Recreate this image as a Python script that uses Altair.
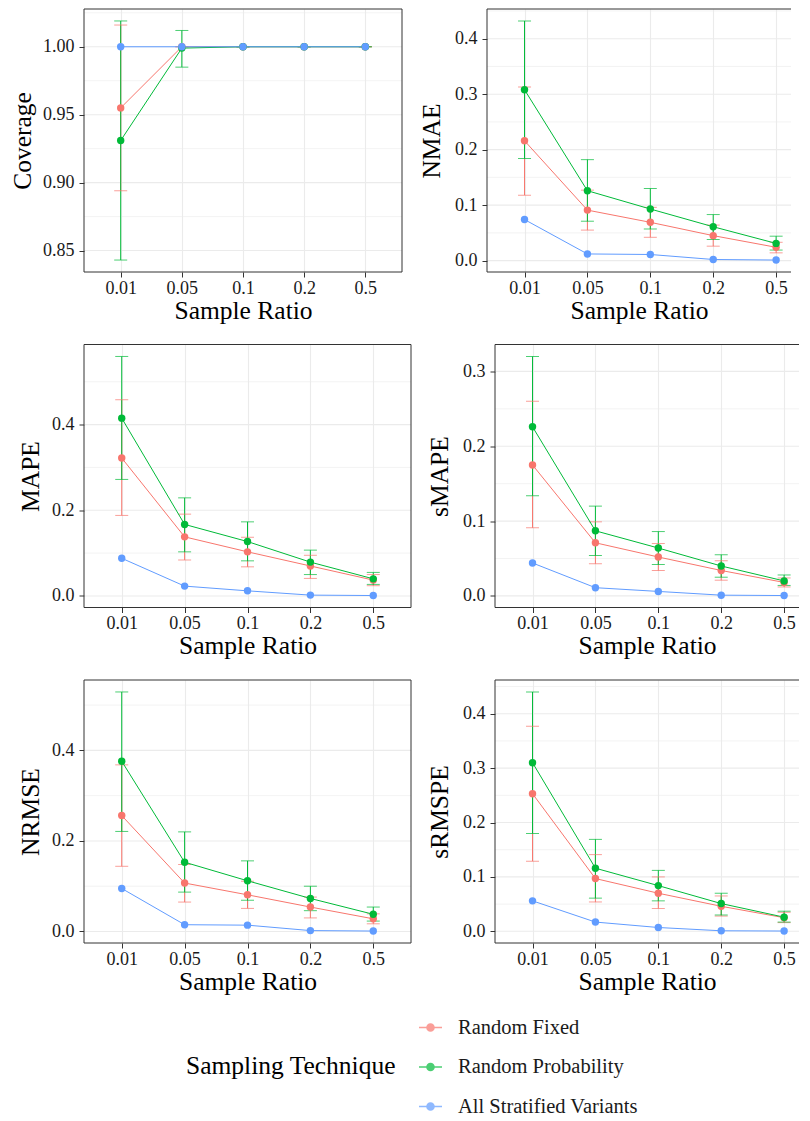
import altair as alt
import pandas as pd

# ---------------- data ----------------
ratios = ["0.01", "0.05", "0.1", "0.2", "0.5"]
techniques = ["Random Fixed", "Random Probability", "All Stratified Variants"]
colors = ["#F8766D", "#00BA38", "#619CFF"]

coverage_fixed = [0.955, 1.000, 1.000, 1.000, 1.000]
coverage_fixed_lo = [0.894, 1.000, 1.000, 1.000, 1.000]
coverage_fixed_hi = [1.016, 1.000, 1.000, 1.000, 1.000]
coverage_prob = [0.931, 0.999, 1.000, 1.000, 1.000]
coverage_prob_lo = [0.843, 0.985, 1.000, 1.000, 1.000]
coverage_prob_hi = [1.019, 1.012, 1.000, 1.000, 1.000]
coverage_strat = [1.000, 1.000, 1.000, 1.000, 1.000]

nmae_fixed = [0.216, 0.091, 0.069, 0.045, 0.024]
nmae_fixed_lo = [0.118, 0.055, 0.042, 0.026, 0.014]
nmae_fixed_hi = [0.313, 0.127, 0.096, 0.064, 0.033]
nmae_prob = [0.308, 0.126, 0.093, 0.061, 0.031]
nmae_prob_lo = [0.184, 0.071, 0.057, 0.038, 0.019]
nmae_prob_hi = [0.432, 0.182, 0.130, 0.083, 0.044]
nmae_strat = [0.074, 0.012, 0.011, 0.002, 0.001]

mape_fixed = [0.322, 0.138, 0.103, 0.070, 0.037]
mape_fixed_lo = [0.188, 0.084, 0.068, 0.041, 0.024]
mape_fixed_hi = [0.458, 0.191, 0.137, 0.095, 0.050]
mape_prob = [0.415, 0.167, 0.127, 0.079, 0.040]
mape_prob_lo = [0.272, 0.103, 0.082, 0.050, 0.027]
mape_prob_hi = [0.559, 0.229, 0.173, 0.107, 0.055]
mape_strat = [0.088, 0.023, 0.012, 0.002, 0.001]

smape_fixed = [0.175, 0.071, 0.052, 0.034, 0.018]
smape_fixed_lo = [0.091, 0.043, 0.034, 0.021, 0.012]
smape_fixed_hi = [0.260, 0.099, 0.070, 0.047, 0.024]
smape_prob = [0.226, 0.087, 0.064, 0.040, 0.020]
smape_prob_lo = [0.134, 0.054, 0.042, 0.025, 0.014]
smape_prob_hi = [0.320, 0.120, 0.086, 0.055, 0.028]
smape_strat = [0.044, 0.011, 0.006, 0.001, 0.0005]

nrmse_fixed = [0.256, 0.107, 0.081, 0.054, 0.028]
nrmse_fixed_lo = [0.144, 0.065, 0.051, 0.030, 0.017]
nrmse_fixed_hi = [0.368, 0.148, 0.111, 0.076, 0.039]
nrmse_prob = [0.376, 0.153, 0.112, 0.073, 0.038]
nrmse_prob_lo = [0.221, 0.087, 0.069, 0.046, 0.023]
nrmse_prob_hi = [0.529, 0.220, 0.156, 0.100, 0.054]
nrmse_strat = [0.095, 0.015, 0.014, 0.002, 0.001]

srmspe_fixed = [0.253, 0.097, 0.070, 0.046, 0.025]
srmspe_fixed_lo = [0.129, 0.054, 0.042, 0.028, 0.016]
srmspe_fixed_hi = [0.377, 0.141, 0.100, 0.065, 0.035]
srmspe_prob = [0.310, 0.116, 0.084, 0.051, 0.026]
srmspe_prob_lo = [0.180, 0.061, 0.056, 0.030, 0.017]
srmspe_prob_hi = [0.440, 0.169, 0.112, 0.070, 0.037]
srmspe_strat = [0.056, 0.017, 0.007, 0.001, 0.0005]

coverage_ticks = [0.85, 0.90, 0.95, 1.00]
coverage_minor = [0.875, 0.925, 0.975, 1.025]
nmae_ticks = [0.0, 0.1, 0.2, 0.3, 0.4]
nmae_minor = [0.05, 0.15, 0.25, 0.35, 0.45]
mape_ticks = [0.0, 0.2, 0.4]
mape_minor = [0.1, 0.3, 0.5]
smape_ticks = [0.0, 0.1, 0.2, 0.3]
smape_minor = [0.05, 0.15, 0.25]
nrmse_ticks = [0.0, 0.2, 0.4]
nrmse_minor = [0.1, 0.3, 0.5]
srmspe_ticks = [0.0, 0.1, 0.2, 0.3, 0.4]
srmspe_minor = [0.05, 0.15, 0.25, 0.35, 0.45]

# ---------------- style ----------------
FONT = "Liberation Serif"
GRID = "#EBEBEB"
BORDER = "#333333"
TEXT = "#1a1a1a"
H = 263

legend_path = "M-1,0L1,0"
for r in [0.31, 0.235, 0.157, 0.08, 0.02]:
    legend_path += f"M{r},0A{r},{r},0,1,1,{-r},0A{r},{r},0,1,1,{r},0"

LEGEND = alt.Legend(
    title="Sampling Technique", orient="none", legendX=102, legendY=1006,
    titleOrient="left", titleAnchor="middle", titleBaseline="middle",
    titleFontSize=25.5, titleFont=FONT, titleFontWeight="normal", titleColor="black",
    titlePadding=22, titleLimit=500, labelLimit=500,
    labelFontSize=20.5, labelFont=FONT, labelColor=TEXT, labelOffset=15,
    symbolType=legend_path, symbolSize=529, symbolStrokeWidth=1.5, rowPadding=16.5,
)


def build_df(fixed, fixed_lo, fixed_hi, prob, prob_lo, prob_hi, strat):
    rows = []
    series = [
        (techniques[0], fixed, fixed_lo, fixed_hi),
        (techniques[1], prob, prob_lo, prob_hi),
        (techniques[2], strat, strat, strat),
    ]
    for tech, m, lo, hi in series:
        for i, r in enumerate(ratios):
            rows.append({"ratio": r, "technique": tech, "mean": m[i], "lo": lo[i], "hi": hi[i]})
    return pd.DataFrame(rows)


def panel(title, df, fmt, majors, minors, width, extent, right_border, xpad=0.6, xalign=0.5):
    lo_all = min(df["lo"].min(), df["mean"].min())
    hi_all = max(df["hi"].max(), df["mean"].max())
    span = hi_all - lo_all
    ydom = [lo_all - 0.05 * span, hi_all + 0.05 * span]

    yscale = alt.Scale(domain=ydom, nice=False, zero=False)
    xscale = alt.Scale(type="point", domain=ratios, padding=xpad, align=xalign)
    cscale = alt.Scale(domain=techniques, range=colors)

    x_axis = alt.Axis(title="Sample Ratio", labelAngle=0, grid=True, gridColor=GRID, gridWidth=1.1,
                      domain=False, ticks=True, tickSize=5, tickColor=BORDER, tickWidth=1,
                      labelPadding=2, labelFontSize=18, titleFontSize=25.5, titlePadding=1)
    y_axis = alt.Axis(title=title, values=majors, format=fmt, grid=False,
                      domain=False, ticks=True, tickSize=5, tickColor=BORDER, tickWidth=1,
                      labelPadding=5, labelFontSize=18, titleFontSize=25.5, titlePadding=4,
                      minExtent=extent, maxExtent=extent)

    def X():
        return alt.X("ratio:O", sort=ratios, scale=xscale, axis=x_axis)

    def Y(field):
        return alt.Y(field, scale=yscale, axis=y_axis)

    def C():
        return alt.Color("technique:N", scale=cscale, legend=LEGEND)

    base = alt.Chart(df)
    ebase = alt.Chart(df[df["technique"] != techniques[2]])

    minor = alt.Chart(pd.DataFrame({"minor": minors})).mark_rule(color=GRID, strokeWidth=0.6).encode(
        x=alt.value(0), x2=alt.value(width), y=Y("minor:Q")
    )
    major = alt.Chart(pd.DataFrame({"major": majors})).mark_rule(color=GRID, strokeWidth=1.1).encode(
        x=alt.value(0), x2=alt.value(width), y=Y("major:Q")
    )
    bars = ebase.mark_rule(strokeWidth=1).encode(x=X(), y=Y("lo:Q"), y2="hi:Q", color=C())
    cap_lo = ebase.mark_tick(size=13, thickness=1).encode(x=X(), y=Y("lo:Q"), color=C())
    cap_hi = ebase.mark_tick(size=13, thickness=1).encode(x=X(), y=Y("hi:Q"), color=C())
    lines = base.mark_line(strokeWidth=1).encode(x=X(), y=Y("mean:Q"), color=C())
    points = base.mark_circle(size=55, opacity=1).encode(x=X(), y=Y("mean:Q"), color=C())

    bc = alt.Chart(pd.DataFrame({"b": [0]}))
    borders = [
        bc.mark_rule(color=BORDER, strokeWidth=1).encode(x=alt.value(0), x2=alt.value(width), y=alt.value(0)),
        bc.mark_rule(color=BORDER, strokeWidth=1).encode(x=alt.value(0), x2=alt.value(width), y=alt.value(H)),
        bc.mark_rule(color=BORDER, strokeWidth=1).encode(x=alt.value(0), y=alt.value(0), y2=alt.value(H)),
    ]
    if right_border:
        borders.append(
            bc.mark_rule(color=BORDER, strokeWidth=1).encode(x=alt.value(width), y=alt.value(0), y2=alt.value(H))
        )

    return alt.layer(minor, major, bars, cap_lo, cap_hi, lines, points, *borders).properties(width=width, height=H)


RW, RP, RA = 304, 0.4165, 0.716

p_cov = panel("Coverage", build_df(coverage_fixed, coverage_fixed_lo, coverage_fixed_hi,
                                   coverage_prob, coverage_prob_lo, coverage_prob_hi, coverage_strat),
              ".2f", coverage_ticks, coverage_minor, 318, 44.5, True)
p_nmae = panel("NMAE", build_df(nmae_fixed, nmae_fixed_lo, nmae_fixed_hi,
                                nmae_prob, nmae_prob_lo, nmae_prob_hi, nmae_strat),
               ".1f", nmae_ticks, nmae_minor, RW, 38.5, False, RP, RA)
p_mape = panel("MAPE", build_df(mape_fixed, mape_fixed_lo, mape_fixed_hi,
                                mape_prob, mape_prob_lo, mape_prob_hi, mape_strat),
               ".1f", mape_ticks, mape_minor, 327, 36.5, True)
p_smape = panel("sMAPE", build_df(smape_fixed, smape_fixed_lo, smape_fixed_hi,
                                  smape_prob, smape_prob_lo, smape_prob_hi, smape_strat),
                ".1f", smape_ticks, smape_minor, RW, 38.5, False, RP, RA)
p_nrmse = panel("NRMSE", build_df(nrmse_fixed, nrmse_fixed_lo, nrmse_fixed_hi,
                                  nrmse_prob, nrmse_prob_lo, nrmse_prob_hi, nrmse_strat),
                ".1f", nrmse_ticks, nrmse_minor, 327, 36.5, True)
p_srmspe = panel("sRMSPE", build_df(srmspe_fixed, srmspe_fixed_lo, srmspe_fixed_hi,
                                    srmspe_prob, srmspe_prob_lo, srmspe_prob_hi, srmspe_strat),
                 ".1f", srmspe_ticks, srmspe_minor, RW, 38.5, False, RP, RA)

row1 = alt.hconcat(p_cov, p_nmae, spacing=16)
row2 = alt.hconcat(p_mape, p_smape, spacing=15)
row3 = alt.hconcat(p_nrmse, p_srmspe, spacing=15)

chart = alt.vconcat(row1, row2, row3, spacing=19.5).properties(
    padding={"left": 2, "top": 0, "right": 0, "bottom": 0}, background="white"
).configure_view(stroke=None).configure_axis(
    labelFont=FONT, titleFont=FONT, labelColor=TEXT, titleColor="black", titleFontWeight="normal"
)

chart.save("out.html", embed_options={"renderer": "svg", "actions": False})
